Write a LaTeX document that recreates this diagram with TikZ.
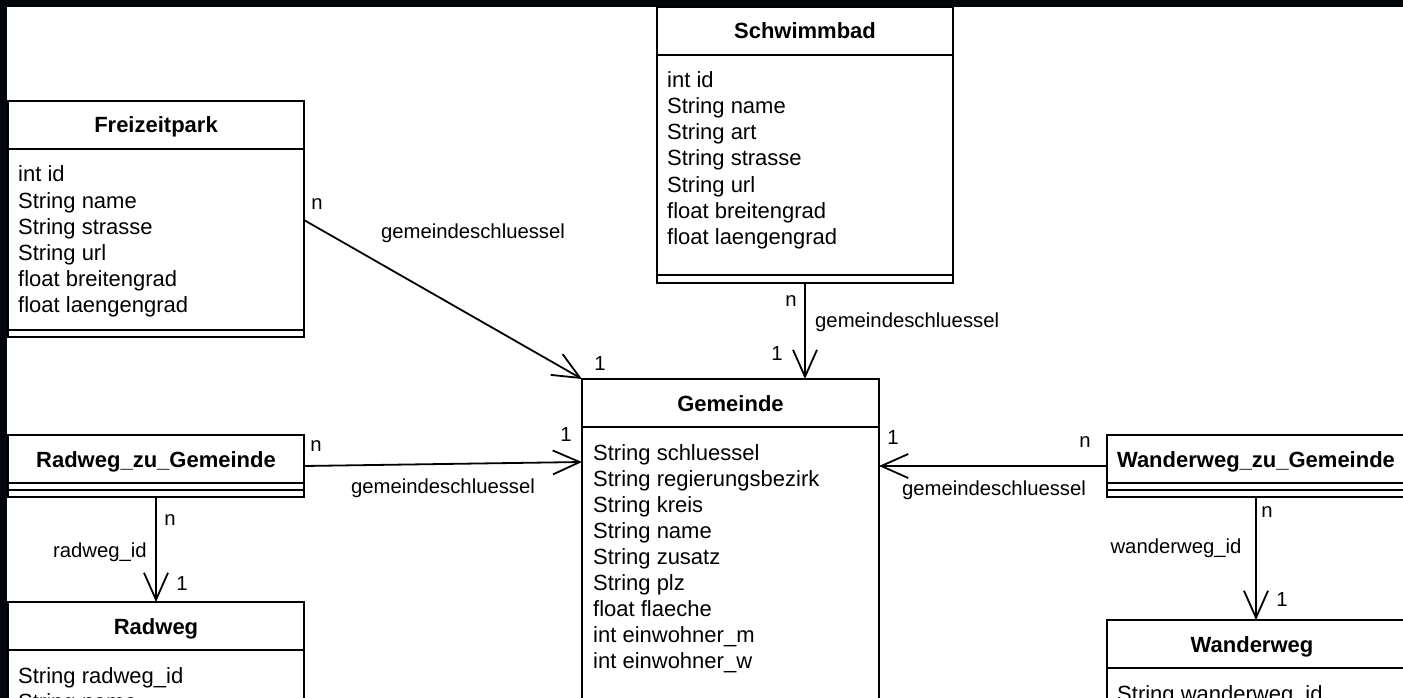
\documentclass[tikz,border=0pt]{standalone}
\usepackage{fontspec}
\setmainfont{Liberation Sans}
\usetikzlibrary{arrows.meta,calc}
\definecolor{edgedark}{RGB}{3,7,12}
\begin{document}
\begin{tikzpicture}[x=1pt,y=-1pt,
  box/.style={draw=black, line width=1.8pt, fill=white, rectangle, inner sep=0pt, outer sep=0pt, anchor=north west},
  sep/.style={draw=black, line width=1.8pt},
  title/.style={font=\fontsize{22}{26}\selectfont\bfseries, inner sep=0pt, anchor=base},
  attr/.style={font=\fontsize{22}{26}\selectfont, inner sep=0pt, anchor=base west},
  lbl/.style={font=\fontsize{20.3}{24}\selectfont, inner sep=0pt},
  conn/.style={draw=black, line width=1.8pt, -{Straight Barb[length=27pt,width=24pt]}}
]
\useasboundingbox (0,0) rectangle (1403,698);
\clip (0,0) rectangle (1403,698);
\fill[white] (0,0) rectangle (1403,698);
\fill[edgedark] (0,0) rectangle (7,698);
\fill[edgedark] (0,0) rectangle (1403,7);

% ---------- boxes ----------
\node[box, minimum width=296pt, minimum height=236pt] (frz) at (8,101) {};
\node[box, minimum width=296pt, minimum height=276pt] (swb) at (657,7) {};
\node[box, minimum width=297pt, minimum height=400pt] (gem) at (582,379) {};
\node[box, minimum width=296pt, minimum height=62pt] (rzg) at (8,435) {};
\node[box, minimum width=296pt, minimum height=200pt] (rad) at (8,602) {};
\node[box, minimum width=298pt, minimum height=62pt] (wzg) at (1107,435) {};
\node[box, minimum width=298pt, minimum height=200pt] (wan) at (1107,620) {};

% separators
\draw[sep] ($(frz.north west)+(0,48)$) -- ($(frz.north east)+(0,48)$);
\draw[sep] ($(frz.north west)+(0,229)$) -- ($(frz.north east)+(0,229)$);
\draw[sep] ($(swb.north west)+(0,48)$) -- ($(swb.north east)+(0,48)$);
\draw[sep] ($(swb.north west)+(0,268)$) -- ($(swb.north east)+(0,268)$);
\draw[sep] ($(gem.north west)+(0,48)$) -- ($(gem.north east)+(0,48)$);
\draw[sep] ($(rzg.north west)+(0,48)$) -- ($(rzg.north east)+(0,48)$);
\draw[sep] ($(rzg.north west)+(0,55)$) -- ($(rzg.north east)+(0,55)$);
\draw[sep] ($(rad.north west)+(0,48)$) -- ($(rad.north east)+(0,48)$);
\draw[sep] ($(wzg.north west)+(0,48)$) -- ($(wzg.north east)+(0,48)$);
\draw[sep] ($(wzg.north west)+(0,55)$) -- ($(wzg.north east)+(0,55)$);
\draw[sep] ($(wan.north west)+(0,48)$) -- ($(wan.north east)+(0,48)$);

% titles
\node[title] (frz-t) at ($(frz.north)+(0,32)$) {Freizeitpark};
\node[title] (swb-t) at ($(swb.north)+(0,32)$) {Schwimmbad};
\node[title] (gem-t) at ($(gem.north)+(0,32)$) {Gemeinde};
\node[title] (rzg-t) at ($(rzg.north)+(0,32)$) {Radweg\_zu\_Gemeinde};
\node[title] (rad-t) at ($(rad.north)+(0,32)$) {Radweg};
\node[title] (wzg-t) at ($(wzg.north)+(0,32)$) {Wanderweg\_zu\_Gemeinde};
\node[title] (wan-t) at ($(wan.north)+(-4,32)$) {Wanderweg};

% attributes
\foreach [count=\i, evaluate=\i as \yy using 81+(\i-1)*26] \t in {int id, String name, String strasse, String url, float breitengrad, float laengengrad}
  \node[attr] (frz-a\i) at ($(frz.north west)+(10,\yy)$) {\t};
\foreach [count=\i, evaluate=\i as \yy using 81+(\i-1)*26] \t in {int id, String name, String art, String strasse, String url, float breitengrad, float laengengrad}
  \node[attr] (swb-a\i) at ($(swb.north west)+(10,\yy)$) {\t};
\foreach [count=\i, evaluate=\i as \yy using 81+(\i-1)*26] \t in {String schluessel, String regierungsbezirk, String kreis, String name, String zusatz, String plz, float flaeche, int einwohner\_m, int einwohner\_w}
  \node[attr] (gem-a\i) at ($(gem.north west)+(11,\yy)$) {\t};
\foreach [count=\i, evaluate=\i as \yy using 81+(\i-1)*26] \t in {String radweg\_id, String name}
  \node[attr] (rad-a\i) at ($(rad.north west)+(10,\yy)$) {\t};
\foreach [count=\i, evaluate=\i as \yy using 81+(\i-1)*26] \t in {String wanderweg\_id}
  \node[attr] (wan-a\i) at ($(wan.north west)+(10,\yy)$) {\t};

% ---------- connectors ----------
\coordinate (c1s) at ($(frz.north east)+(0,119)$);
\draw[conn] (c1s) -- (gem.north west);
\node[lbl] (l1n) at (317,204) {n};
\node[lbl] (l1t) at (473,233) {gemeindeschluessel};
\node[lbl] (l1o) at (600,364) {1};

\draw[conn] (swb.south) -- (swb.south |- gem.north);
\node[lbl] (l2n) at (791,301) {n};
\node[lbl, anchor=west] (l2t) at (815,322) {gemeindeschluessel};
\node[lbl] (l2o) at (777,354) {1};

\coordinate (c3e) at ($(gem.north west)+(0,83)$);
\draw[conn] (rzg.east) -- (c3e);
\node[lbl] (l3n) at (316,446) {n};
\node[lbl] (l3t) at (443,488) {gemeindeschluessel};
\node[lbl] (l3o) at (566,435) {1};

\draw[conn] (wzg.west) -- (gem.east |- wzg.west);
\node[lbl] (l4n) at (1085,442) {n};
\node[lbl] (l4t) at (994,490) {gemeindeschluessel};
\node[lbl] (l4o) at (893,438) {1};

\draw[conn] (rzg.south) -- (rad.north);
\node[lbl] (l5n) at (170,520) {n};
\node[lbl, anchor=east] (l5t) at (147,552) {radweg\_id};
\node[lbl] (l5o) at (182,584) {1};

\draw[conn] (wzg.south) -- (wan.north);
\node[lbl] (l6n) at (1267,512) {n};
\node[lbl] (l6t) at (1176,548) {wanderweg\_id};
\node[lbl] (l6o) at (1282,600) {1};
\end{tikzpicture}
\end{document}
